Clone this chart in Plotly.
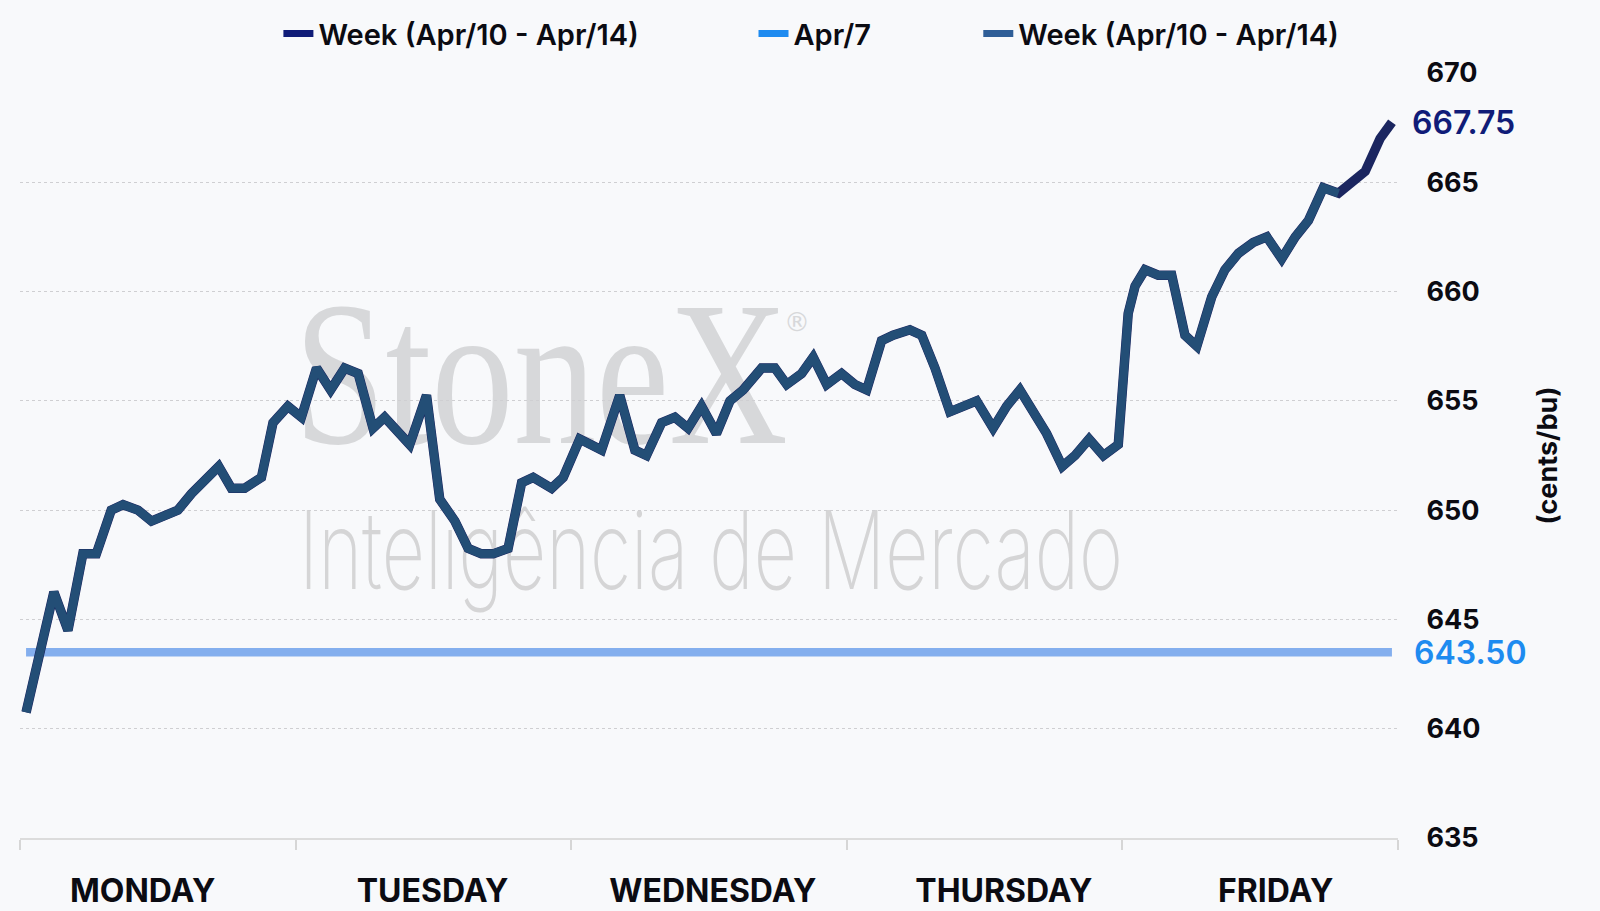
import base64
import plotly.graph_objects as go

# x = trading time in days from Monday open (0..5), y = cents/bu
days = ["MONDAY", "TUESDAY", "WEDNESDAY", "THURSDAY", "FRIDAY"]
day_label_pos = [0.445, 1.497, 2.514, 3.570, 4.556]

week_x = [
    0.022, 0.123, 0.174, 0.228, 0.277, 0.331, 0.374, 0.428, 0.477, 0.573,
    0.622, 0.682, 0.721, 0.767, 0.815, 0.876, 0.918, 0.972, 1.021,
    1.076, 1.127, 1.178, 1.227, 1.281, 1.323, 1.414, 1.475, 1.523, 1.578,
    1.626, 1.674, 1.717, 1.771, 1.820, 1.862, 1.929, 1.971,
    2.031, 2.110, 2.176, 2.231, 2.273, 2.328, 2.376, 2.424, 2.473, 2.527,
    2.576, 2.624, 2.691, 2.739, 2.782, 2.836, 2.878, 2.927, 2.981,
    3.029, 3.072, 3.126, 3.168, 3.229, 3.272, 3.320, 3.374, 3.417, 3.471,
    3.531, 3.580, 3.628, 3.677, 3.725, 3.782, 3.828, 3.879, 3.931, 3.985,
    4.021, 4.046, 4.082, 4.130, 4.179, 4.227, 4.270, 4.324, 4.372, 4.421,
    4.475, 4.524, 4.578, 4.627, 4.675, 4.729, 4.784, 4.832, 4.881, 4.935,
    4.978,
]
week_y = [
    640.75, 646.25, 644.5, 648.0, 648.0, 650.0, 650.25, 650.0, 649.5, 650.0,
    650.75, 651.5, 652.0, 651.0, 651.0, 651.5, 654.0, 654.75, 654.25,
    656.5, 655.5, 656.5, 656.25, 653.75, 654.25, 653.0, 655.25, 650.5, 649.5,
    648.25, 648.0, 648.0, 648.25, 651.25, 651.5, 651.0, 651.5,
    653.25, 652.75, 655.25, 652.75, 652.5, 654.0, 654.25, 653.75, 654.75, 653.5,
    655.0, 655.5, 656.5, 656.5, 655.75, 656.25, 657.0, 655.75, 656.25,
    655.75, 655.5, 657.75, 658.0, 658.25, 658.0, 656.5, 654.5, 654.75, 655.0,
    653.75, 654.75, 655.5, 654.5, 653.5, 652.0, 652.5, 653.25, 652.5, 653.0,
    659.0, 660.25, 661.0, 660.75, 660.75, 658.0, 657.5, 659.75, 661.0, 661.75,
    662.25, 662.5, 661.5, 662.5, 663.25, 664.75, 664.5, 665.0, 665.5, 667.0,
    667.75,
]
# second "Week" series stops a few prints before the close
week_b_len = len(week_y) - 4

apr7_close = 643.5

week_name = "Week (Apr/10 - Apr/14)"
apr7_name = "Apr/7"

navy = "#1B2660"
navy_legend = "#101C78"
steel = "#234E76"
steel_legend = "#2F5E97"
apr7_line = "#84AFEE"
apr7_legend = "#1E8BF0"
bg = "#F8F9FB"
txt = "#0B0B12"
font_family = "Inter, Lato, sans-serif"
nbsp = "\u00a0"

fig = go.Figure()

# Apr/7 close as flat reference line
fig.add_trace(go.Scatter(x=[week_x[0], week_x[-1]], y=[apr7_close, apr7_close],
                         mode="lines", line=dict(color=apr7_line, width=8.5),
                         showlegend=False, hoverinfo="skip"))
fig.add_trace(go.Scatter(x=week_x, y=week_y, mode="lines",
                         line=dict(color=navy, width=9.5), showlegend=False))
fig.add_trace(go.Scatter(x=week_x[:week_b_len], y=week_y[:week_b_len], mode="lines",
                         line=dict(color=steel, width=8.5), showlegend=False))

# legend entries (legend swatches are brighter than the plotted lines)
for name, col in [(week_name + nbsp * 15, navy_legend),
                  (apr7_name + nbsp * 14, apr7_legend),
                  (week_name, steel_legend)]:
    fig.add_trace(go.Scatter(x=[None], y=[None], mode="lines", name=name,
                             line=dict(color=col, width=7)))

# watermark
svg = (
    '<svg xmlns="http://www.w3.org/2000/svg" width="1378" height="765" viewBox="0 0 1378 765">'
    '<text x="274" y="370" font-family="Liberation Serif, DejaVu Serif, serif" font-size="205" '
    'fill="#D7D8DA" textLength="494" lengthAdjust="spacingAndGlyphs">StoneX</text>'
    '<text x="764" y="258" font-family="DejaVu Sans, sans-serif" font-size="26" fill="#D7D8DA">\u00ae</text>'
    '<text x="279" y="516" font-family="Inter, Roboto, Lato, sans-serif" font-weight="200" font-size="108" '
    'fill="#D5D5D6" textLength="824" lengthAdjust="spacingAndGlyphs">Intelig\u00eancia de Mercado</text>'
    '</svg>'
)
svg_uri = "data:image/svg+xml;base64," + base64.b64encode(svg.encode("utf-8")).decode()
fig.add_layout_image(dict(source=svg_uri, xref="paper", yref="paper", x=0, y=1,
                          sizex=1, sizey=1, xanchor="left", yanchor="top",
                          sizing="stretch", layer="below"))

# last prices on the right
fig.add_annotation(x=1, xref="paper", xanchor="left", xshift=12, y=week_y[-1],
                   text=f"{week_y[-1]:.2f}", showarrow=False,
                   font=dict(family=font_family, size=32, color="#101C78", weight=600))
fig.add_annotation(x=1, xref="paper", xanchor="left", xshift=14, y=apr7_close,
                   text=f"{apr7_close:.2f}", showarrow=False,
                   font=dict(family=font_family, size=32, color=apr7_legend, weight=600))

fig.update_layout(
    width=1600, height=911,
    margin=dict(l=20, r=202, t=73, b=73, autoexpand=False),
    paper_bgcolor=bg, plot_bgcolor=bg,
    font=dict(family=font_family, color=txt, weight=700),
    legend=dict(orientation="h", xref="container", yref="container",
                x=0.174, xanchor="left", y=0.963, yanchor="middle",
                font=dict(size=29, color=txt, weight=600),
                bgcolor="rgba(0,0,0,0)"),
    showlegend=True,
)
fig.update_xaxes(
    range=[0, 5], tickvals=day_label_pos, ticktext=days,
    ticks="outside", ticklen=24, tickcolor="rgba(0,0,0,0)",
    tickfont=dict(size=32, color=txt, weight=700),
    showgrid=False, zeroline=False, automargin=False,
    showline=True, linecolor="#DCDCDC", linewidth=1.5,
    minor=dict(tickmode="array", tickvals=[0, 1, 2, 3, 4, 5], ticks="outside",
               ticklen=10, tickcolor="#D6D6D6", tickwidth=1.5, showgrid=False),
)
fig.update_yaxes(
    range=[635, 670], side="right", tickmode="linear", tick0=635, dtick=5,
    ticks="outside", ticklen=22, tickcolor="rgba(0,0,0,0)",
    tickfont=dict(size=27, color=txt, weight=700),
    showgrid=True, gridcolor="#CFCFD2", griddash="dot", gridwidth=1,
    zeroline=False, automargin=False,
    title=dict(text="(cents/bu)", standoff=58,
               font=dict(size=27, color=txt, weight=700)),
)

fig.write_html("out.html", config={"displayModeBar": False},
               post_script="document.body.style.margin='0';"
                           "document.body.style.background='" + bg + "';")
